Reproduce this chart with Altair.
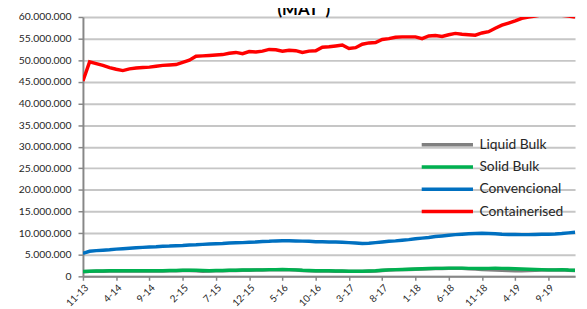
import altair as alt
import pandas as pd

# month categories 11-13 ... 1-20
months = []
m, yy = 11, 13
for _ in range(75):
    months.append(f"{m}-{yy}")
    m += 1
    if m > 12:
        m = 1
        yy += 1

tick_labels = ["11-13", "4-14", "9-14", "2-15", "7-15", "12-15", "5-16", "10-16",
               "3-17", "8-17", "1-18", "6-18", "11-18", "4-19", "9-19"]

series_names = ["Liquid Bulk", "Solid Bulk", "Convencional", "Containerised"]
series_colors = ["#808080", "#00B050", "#0070C0", "#FF0000"]

# values in millions
liquid_bulk = [1.05, 1.15, 1.2, 1.2, 1.25, 1.25, 1.25, 1.25, 1.25, 1.25,
               1.25, 1.25, 1.25, 1.3, 1.3, 1.35, 1.35, 1.3, 1.15, 1.25,
               1.3, 1.3, 1.35, 1.35, 1.4, 1.4, 1.45, 1.45, 1.5, 1.5,
               1.55, 1.5, 1.45, 1.35, 1.3, 1.25, 1.25, 1.25, 1.2, 1.2,
               1.15, 1.15, 1.15, 1.2, 1.25, 1.35, 1.45, 1.5, 1.55, 1.6,
               1.65, 1.7, 1.75, 1.8, 1.8, 1.85, 1.85, 1.85, 1.75, 1.7,
               1.6, 1.5, 1.45, 1.4, 1.35, 1.3, 1.3, 1.35, 1.4, 1.45,
               1.45, 1.45, 1.5, 1.4, 1.35]
solid_bulk = [1.1, 1.2, 1.25, 1.25, 1.3, 1.3, 1.3, 1.3, 1.3, 1.3,
              1.3, 1.3, 1.3, 1.35, 1.35, 1.4, 1.4, 1.4, 1.35, 1.3,
              1.35, 1.35, 1.4, 1.4, 1.45, 1.45, 1.5, 1.5, 1.55, 1.55,
              1.6, 1.55, 1.5, 1.4, 1.35, 1.3, 1.3, 1.3, 1.25, 1.25,
              1.2, 1.2, 1.2, 1.25, 1.3, 1.4, 1.5, 1.55, 1.6, 1.65,
              1.7, 1.75, 1.8, 1.85, 1.85, 1.9, 1.9, 1.9, 1.85, 1.85,
              1.8, 1.85, 1.9, 1.85, 1.8, 1.75, 1.7, 1.65, 1.6, 1.55,
              1.5, 1.5, 1.55, 1.45, 1.4]
convencional = [5.3, 5.8, 5.95, 6.05, 6.15, 6.3, 6.4, 6.5, 6.6, 6.7,
                6.8, 6.85, 6.95, 7.0, 7.1, 7.15, 7.25, 7.3, 7.4, 7.5,
                7.55, 7.6, 7.7, 7.75, 7.8, 7.9, 7.95, 8.05, 8.1, 8.2,
                8.25, 8.25, 8.2, 8.15, 8.1, 8.0, 8.0, 7.95, 7.95, 7.9,
                7.8, 7.7, 7.6, 7.65, 7.8, 7.95, 8.1, 8.2, 8.35, 8.5,
                8.7, 8.85, 9.0, 9.2, 9.35, 9.5, 9.65, 9.75, 9.85, 9.9,
                9.95, 9.9, 9.85, 9.75, 9.7, 9.7, 9.65, 9.65, 9.7, 9.75,
                9.75, 9.8, 9.9, 10.05, 10.2]
containerised = [45.2, 49.6, 49.2, 48.8, 48.3, 47.9, 47.6, 48.0, 48.2, 48.3,
                 48.4, 48.6, 48.8, 48.9, 49.0, 49.5, 50.0, 50.9, 51.0, 51.1,
                 51.2, 51.3, 51.6, 51.8, 51.5, 52.0, 51.9, 52.1, 52.5, 52.4,
                 52.1, 52.3, 52.2, 51.8, 52.1, 52.2, 53.0, 53.1, 53.3, 53.5,
                 52.7, 52.9, 53.7, 54.0, 54.1, 54.8, 55.0, 55.3, 55.4, 55.4,
                 55.4, 55.0, 55.6, 55.7, 55.5, 55.9, 56.2, 56.0, 55.9, 55.8,
                 56.3, 56.6, 57.4, 58.1, 58.6, 59.1, 59.7, 60.0, 60.2, 60.5,
                 60.7, 60.6, 60.4, 60.2, 59.98]

series_values = [liquid_bulk, solid_bulk, convencional, containerised]

rows = []
for name, vals in zip(series_names, series_values):
    for i, (mo, v) in enumerate(zip(months, vals)):
        rows.append({"month": mo, "idx": i, "series": name, "value": v * 1e6})
df = pd.DataFrame(rows)

FONT = "Lato"
GRID = "#C6C6C6"
AXIS = "#878787"

lines = alt.Chart(df).mark_line(strokeWidth=3.5, clip=True).encode(
    x=alt.X("month:O", sort=months, title=None,
            scale=alt.Scale(type="point", padding=0),
            axis=alt.Axis(values=tick_labels, labelAngle=-45, labelFontSize=10,
                          labelFont=FONT, labelColor="#262626", domainColor=AXIS,
                          domainWidth=2, tickColor=AXIS, tickWidth=1.5, tickSize=4,
                          grid=False, labelPadding=2)),
    y=alt.Y("value:Q", title=None,
            scale=alt.Scale(domain=[0, 60e6], nice=False, zero=True),
            axis=alt.Axis(values=list(range(0, 60000001, 5000000)),
                          labelExpr="replace(format(datum.value, ','), regexp(',', 'g'), '.')",
                          labelFont=FONT, labelFontSize=10.5, labelColor="#262626",
                          domainColor=AXIS, domainWidth=2, tickColor=AXIS,
                          tickWidth=1.5, tickSize=5, labelPadding=7,
                          gridColor=GRID, gridWidth=2)),
    color=alt.Color("series:N", sort=series_names,
                    scale=alt.Scale(domain=series_names, range=series_colors),
                    legend=alt.Legend(title=None, orient="none", legendX=361, legendY=121,
                                      symbolType="M-4,0H4", symbolSize=169,
                                      symbolStrokeWidth=3.5, labelFont=FONT,
                                      labelFontSize=14, labelColor="#262626",
                                      rowPadding=6.6, labelOffset=24)),
    order=alt.Order("idx:Q"),
)

title = alt.Chart(pd.DataFrame({"t": ["(MAT*)"]})).mark_text(
    font=FONT, fontSize=17, fontWeight="bold", color="#000000",
    baseline="alphabetic", align="center"
).encode(text="t:N", x=alt.value(224), y=alt.value(-2))

chart = alt.layer(lines, title).properties(
    width=499, height=263,
    padding={"left": 76, "top": 7, "right": 4, "bottom": 31},
    autosize=alt.AutoSizeParams(type="none"),
    background="white",
).configure_view(stroke=None)

chart.save("out.html", embed_options={"renderer": "svg", "actions": False})
